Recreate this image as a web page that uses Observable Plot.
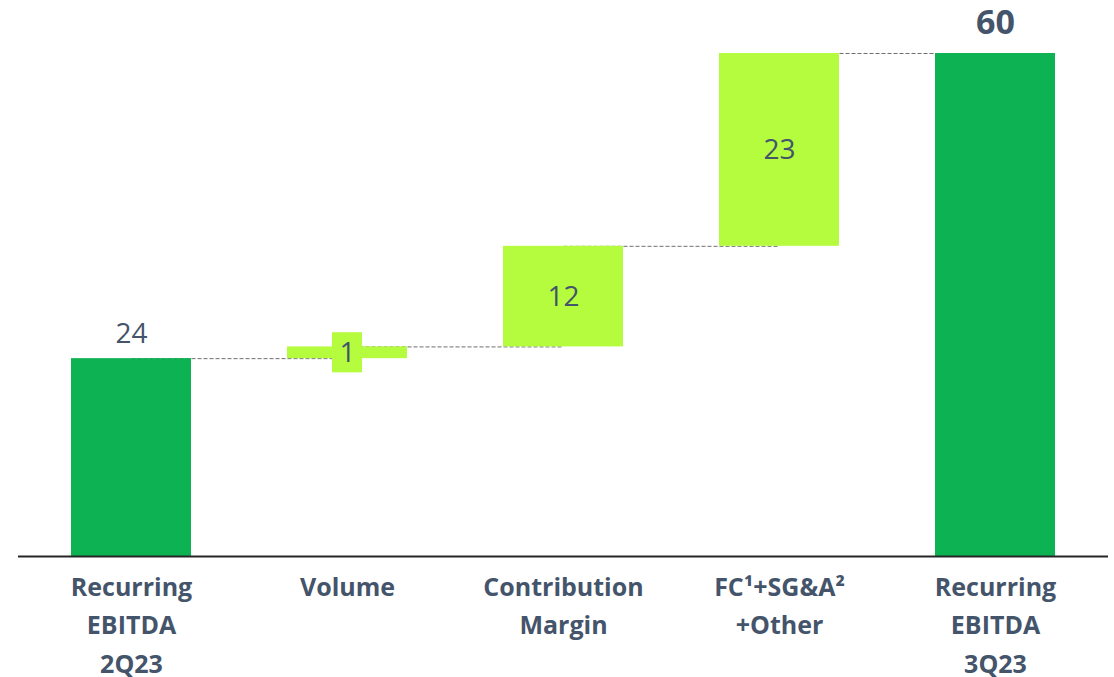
<!DOCTYPE html>
<html>
<head>
<meta charset="utf-8">
<script src="https://cdn.jsdelivr.net/npm/d3@7"></script>
<script src="https://cdn.jsdelivr.net/npm/@observablehq/plot@0.6"></script>
<style>
  html, body { margin: 0; padding: 0; background: #ffffff; }
  #chart { width: 1114px; height: 677px; }
</style>
</head>
<body>
<div id="chart"></div>
<script>
// ---- data ----
const categories = ["Recurring\nEBITDA\n2Q23", "Volume", "Contribution\nMargin", "FC¹+SG&A²\n+Other", "Recurring\nEBITDA\n3Q23"];
const values = [23.6, 1.4, 12.0, 23.0, 60];        // bar heights
const valueLabels = ["24", "1", "12", "23", "60"];  // labels printed on the chart
const kinds = ["total", "delta", "delta", "delta", "total"];

// ---- styles ----
const darkGreen = "#0db352";
const lightGreen = "#b5fc3e";
const textColor = "#44546a";

// build waterfall table
let cum = 0;
const rows = categories.map((c, i) => {
  let y1, y2;
  if (kinds[i] === "total") { y1 = 0; y2 = values[i]; cum = values[i]; }
  else { y1 = cum; y2 = cum + values[i]; cum = y2; }
  return {cat: c, value: values[i], label: valueLabels[i], kind: kinds[i], y1, y2, mid: (y1 + y2) / 2, last: i === categories.length - 1};
});
const links = rows.slice(0, -1).map((r, i) => ({a: r.cat, b: rows[i + 1].cat, level: r.y2}));
const totals = rows.filter(r => r.kind === "total");
const deltas = rows.filter(r => r.kind === "delta");
const smallDeltas = deltas.filter(r => r.value < 5);

const chart = Plot.plot({
  width: 1114,
  height: 677,
  marginTop: 53,
  marginBottom: 121,
  marginLeft: 18,
  marginRight: 6,
  style: {fontFamily: "'Open Sans', sans-serif", background: "#ffffff"},
  x: {domain: categories, paddingInner: 0.445, paddingOuter: 0.243, label: null},
  y: {domain: [0, 60], axis: null},
  marks: [
    Plot.link(links, {x1: "a", x2: "b", y1: "level", y2: "level", stroke: "#6f6f6f", strokeWidth: 1, strokeDasharray: "4,2"}),
    Plot.rectY(rows, {x: "cat", y1: "y1", y2: "y2", fill: d => d.kind === "total" ? darkGreen : lightGreen}),
    Plot.rectY(smallDeltas, {x: "cat", y1: "y1", y2: "y2", fill: lightGreen, insetLeft: 45, insetRight: 45, insetTop: -14.2, insetBottom: -14.2}),
    Plot.ruleY([0], {stroke: "#262626", strokeWidth: 2}),
    Plot.text(totals.filter(d => !d.last), {x: "cat", y: "y2", text: "label", lineAnchor: "bottom", dy: -16, fontSize: 28, fill: textColor}),
    Plot.text(totals.filter(d => d.last), {x: "cat", y: "y2", text: "label", lineAnchor: "bottom", dy: -20, fontSize: 34, fontWeight: "bold", fill: textColor}),
    Plot.text(deltas, {x: "cat", y: "mid", text: "label", fontSize: 28, fill: textColor}),
    Plot.axisX({tickSize: 0, tickPadding: 12, fontSize: 25, fontWeight: "bold", lineHeight: 1.54, fill: textColor, label: null})
  ]
});
document.getElementById("chart").appendChild(chart);
</script>
</body>
</html>
